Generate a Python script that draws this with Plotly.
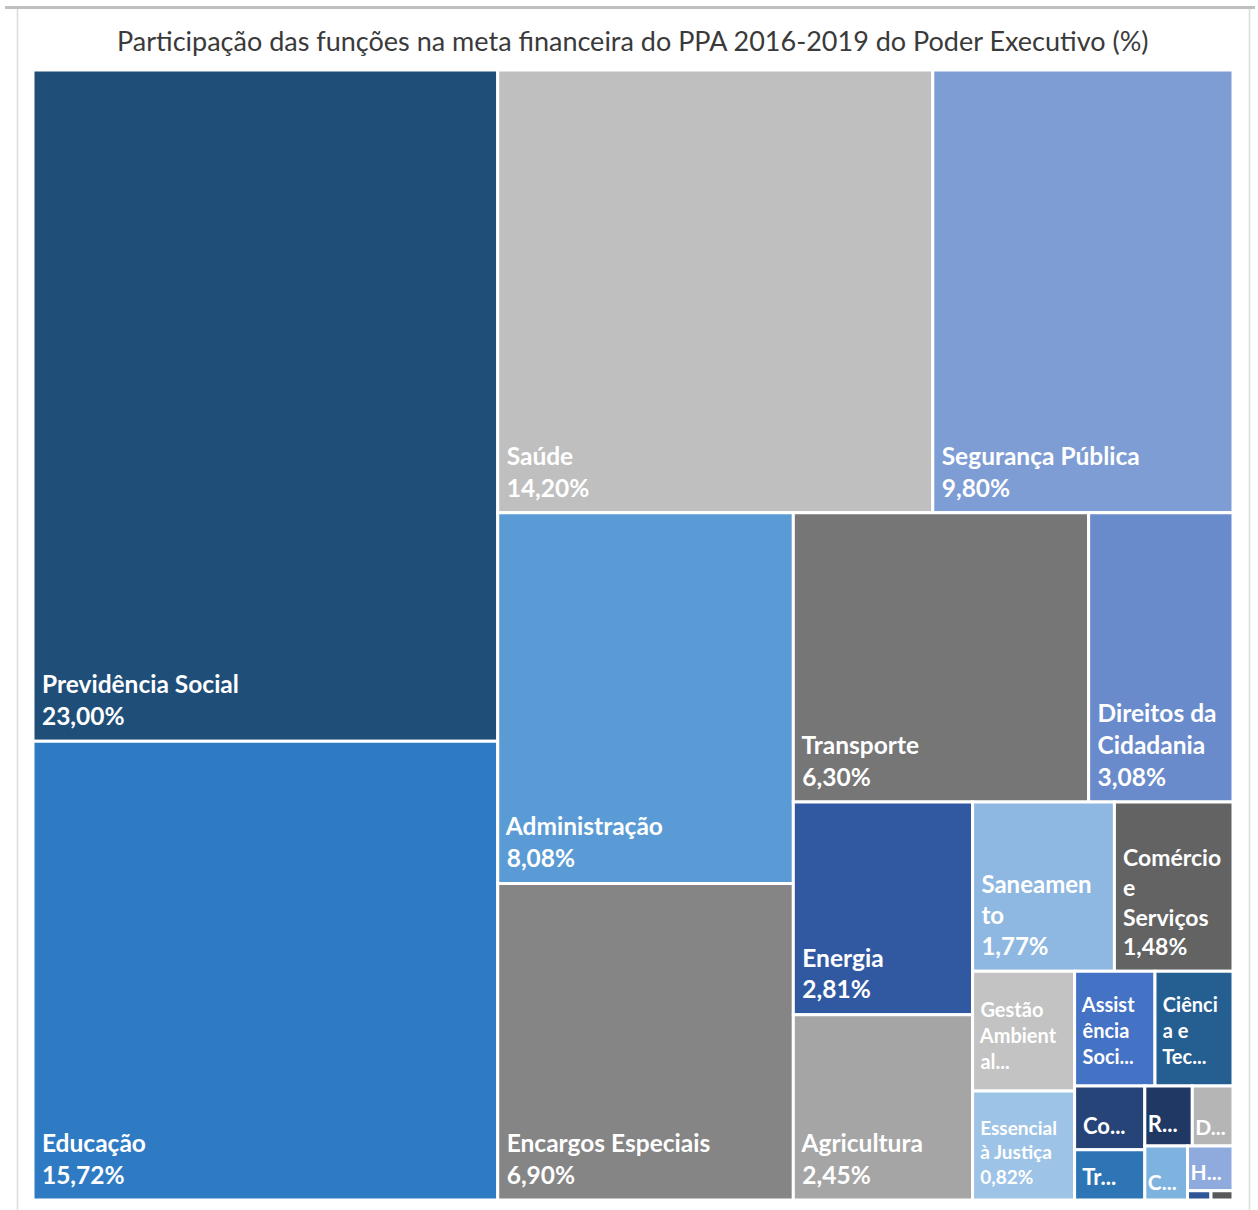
import plotly.graph_objects as go

# ---- data -------------------------------------------------------------
funcoes = [
    "Previdência Social", "Educação", "Saúde", "Segurança Pública",
    "Administração", "Encargos Especiais", "Transporte", "Direitos da Cidadania",
    "Energia", "Agricultura", "Saneamento", "Comércio e Serviços",
    "Gestão Ambiental", "Essencial à Justiça", "Assistência Social",
    "Ciência e Tecnologia", "Cultura", "Trabalho", "Reserva de Contingência",
    "Desporto e Lazer", "Comunicações", "Habitação", "Urbanismo", "Indústria",
]
participacao = [
    23.00, 15.72, 14.20, 9.80,
    8.08, 6.90, 6.30, 3.08,
    2.81, 2.45, 1.77, 1.48,
    0.90, 0.82, 0.68, 0.66,
    0.33, 0.26, 0.21, 0.18, 0.17, 0.15, 0.016, 0.015,
]
# text shown inside each tile (wrapped / truncated as in the original)
rotulos = [
    "Previdência Social<br>23,00%", "Educação<br>15,72%", "Saúde<br>14,20%",
    "Segurança Pública<br>9,80%", "Administração<br>8,08%",
    "Encargos Especiais<br>6,90%", "Transporte<br>6,30%",
    "Direitos da<br>Cidadania<br>3,08%", "Energia<br>2,81%",
    "Agricultura<br>2,45%", "Saneamen<br>to<br>1,77%",
    "Comércio<br>e<br>Serviços<br>1,48%", "Gestão<br>Ambient<br>al...",
    "Essencial<br>à Justiça<br>0,82%", "Assist<br>ência<br>Soci...",
    "Ciênci<br>a e<br>Tec...", "Co...", "Tr...", "R...", "D...", "C...", "H...",
    "", "",
]
cores = [
    "#1F4E79", "#2E7BC4", "#BFBFBF", "#7E9DD5",
    "#5B9BD5", "#858585", "#767676", "#6A8BCB",
    "#3159A2", "#A5A5A5", "#8EB8E1", "#636363",
    "#C3C3C3", "#9DC3E6", "#4472C4", "#255E91",
    "#264478", "#2E75B6", "#1F3864", "#B5B5B5", "#7EB3E0", "#8FAADC",
    "#2F5597", "#595959",
]
# label font size, invisible spacer size (lifts the label) and indent flag
tamanhos = [
    24.5, 24.5, 24.5, 24.5, 24.5, 24.5, 24.5, 24.5, 24.5, 24.5, 24, 23,
    20, 19, 20, 20, 22, 22, 22, 21, 21, 21, 8, 8,
]
espacadores = [
    38, 38, 38, 38, 38, 38, 38, 38, 38, 38, 38, 38,
    70, 40, 72, 72, 38, 34, 26, 17, 15, 15, 0, 0,
]
recuo = [
    True, True, True, True, True, True, True, True, True, True, True, True,
    True, True, True, True, True, True, False, False, False, False, False, False,
]


def com_margem(s, f, r):
    """indent every line a little and leave a small gap under the text"""
    if not s:
        return s
    ind = "\u00a0" if r else ""
    linhas = [ind + l for l in s.split("<br>")]
    linhas[-1] += '<sub><span style="font-size:%dpx">\u00a0</span></sub>' % f
    return "<br>".join(linhas)


W, H = 1258, 1210
fig = go.Figure(go.Treemap(
    labels=funcoes,
    parents=[""] * len(funcoes),
    values=participacao,
    text=[com_margem(r, f, i) for r, f, i in zip(rotulos, espacadores, recuo)],
    texttemplate="%{text}",
    textposition="bottom left",
    textfont=dict(family="Lato, 'Open Sans', sans-serif", size=tamanhos, color="white", weight="bold"),
    marker=dict(colors=cores, line=dict(color="white", width=3),
                pad=dict(t=0, l=0, r=0, b=0)),
    tiling=dict(packing="squarify", squarifyratio=1, pad=0),
    sort=True,
    hoverinfo="label+value",
    domain=dict(x=[33 / W, 1233 / W], y=[1 - 1200 / H, 1 - 70 / H]),
))

fig.update_layout(
    width=W, height=H,
    margin=dict(l=0, r=0, t=0, b=0),
    paper_bgcolor="white",
    title=dict(
        text="Participação das funções na meta financeira do PPA 2016-2019 do Poder Executivo (%)",
        x=0.503, xanchor="center", y=1 - 42 / H, yanchor="middle",
        font=dict(family="Lato, 'Open Sans', sans-serif", size=27, color="#3A3A3A"),
    ),
    shapes=[
        dict(type="line", xref="paper", yref="paper", x0=5 / W, x1=1255 / W,
             y0=1 - 7.5 / H, y1=1 - 7.5 / H, line=dict(color="#C0C0C0", width=3)),
        dict(type="line", xref="paper", yref="paper", x0=17.5 / W, x1=17.5 / W,
             y0=0, y1=1 - 9 / H, line=dict(color="#DCDCDC", width=1.5)),
        dict(type="line", xref="paper", yref="paper", x0=1249.5 / W, x1=1249.5 / W,
             y0=0, y1=1 - 9 / H, line=dict(color="#DCDCDC", width=1.5)),
    ],
)

fig.write_html("out.html", config={"displayModeBar": False},
               post_script="document.body.style.margin='0';")
